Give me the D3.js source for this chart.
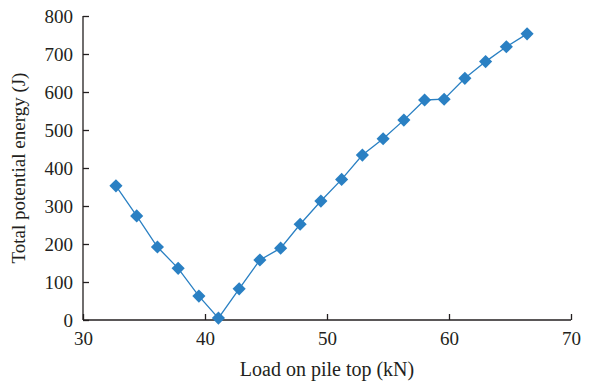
<!DOCTYPE html>
<html>
<head>
<meta charset="UTF-8">
<style>
  body { margin: 0; background: #fff; }
  text { font-family: "Liberation Serif", "DejaVu Serif", serif; fill: #231f20; }
</style>
</head>
<body>
<script src="https://d3js.org/d3.v7.min.js"></script>
<script>
// load on pile top (kN) and total potential energy (J)
var load = [32.7, 34.4, 36.1, 37.8, 39.5, 41.1, 42.8, 44.5, 46.2, 47.8, 49.5,
            51.2, 52.9, 54.6, 56.3, 58.0, 59.6, 61.3, 63.0, 64.7, 66.4];
var energy = [353, 274, 192, 136, 63, 5, 82, 158, 189, 252, 313,
              370, 434, 477, 526, 579, 581, 636, 680, 719, 753];
var xTicks = [30, 40, 50, 60, 70];
var yTicks = [0, 100, 200, 300, 400, 500, 600, 700, 800];

var width = 600, height = 385;
var margin = { top: 16, right: 29, bottom: 65, left: 83 };

var svg = d3.select("body").append("svg").attr("width", width).attr("height", height);

var x = d3.scaleLinear().domain([30, 70]).range([margin.left, width - margin.right]);
var y = d3.scaleLinear().domain([0, 800]).range([height - margin.bottom, margin.top]);

var data = load.map(function(d, i) { return { x: d, y: energy[i] }; });

var axisx = d3.axisBottom(x).tickValues(xTicks).tickSize(-6).tickPadding(12).tickFormat(d3.format("d"));
var axisy = d3.axisLeft(y).tickValues(yTicks).tickSize(-6).tickPadding(10).tickFormat(d3.format("d"));

var gx = svg.append("g")
  .attr("transform", "translate(0," + (height - margin.bottom) + ")")
  .call(axisx);
var gy = svg.append("g")
  .attr("transform", "translate(" + margin.left + ",0)")
  .call(axisy);

[gx, gy].forEach(function(g) {
  g.select(".domain").attr("stroke", "#231f20").attr("stroke-width", 1.3);
  g.selectAll(".tick line").attr("stroke", "#231f20").attr("stroke-width", 1.3);
  g.selectAll(".tick text").style("font-size", "19px").style("font-family", "Liberation Serif").attr("fill", "#231f20");
});
gy.select(".domain").attr("d", "M0," + y(800) + "V" + y(0));
gx.select(".domain").attr("d", "M" + x(30) + ",0H" + x(70));

var line = d3.line().x(function(d) { return x(d.x); }).y(function(d) { return y(d.y); });

svg.append("path")
  .datum(data)
  .attr("fill", "none")
  .attr("stroke", "#2a80c3")
  .attr("stroke-width", 1.3)
  .attr("d", line);

svg.selectAll(".pt")
  .data(data)
  .enter().append("path")
  .attr("class", "pt")
  .attr("d", d3.symbol().type(d3.symbolDiamond2).size(110))
  .attr("transform", function(d) { return "translate(" + x(d.x) + "," + y(d.y) + ")"; })
  .attr("fill", "#2a80c3");

svg.append("text")
  .attr("x", x(50))
  .attr("y", 376)
  .attr("text-anchor", "middle")
  .style("font-size", "20px")
  .text("Load on pile top (kN)");

svg.append("text")
  .attr("transform", "translate(25," + ((y(0) + y(800)) / 2) + ") rotate(-90)")
  .attr("text-anchor", "middle")
  .style("font-size", "19px")
  .text("Total potential energy (J)");
</script>
</body>
</html>
